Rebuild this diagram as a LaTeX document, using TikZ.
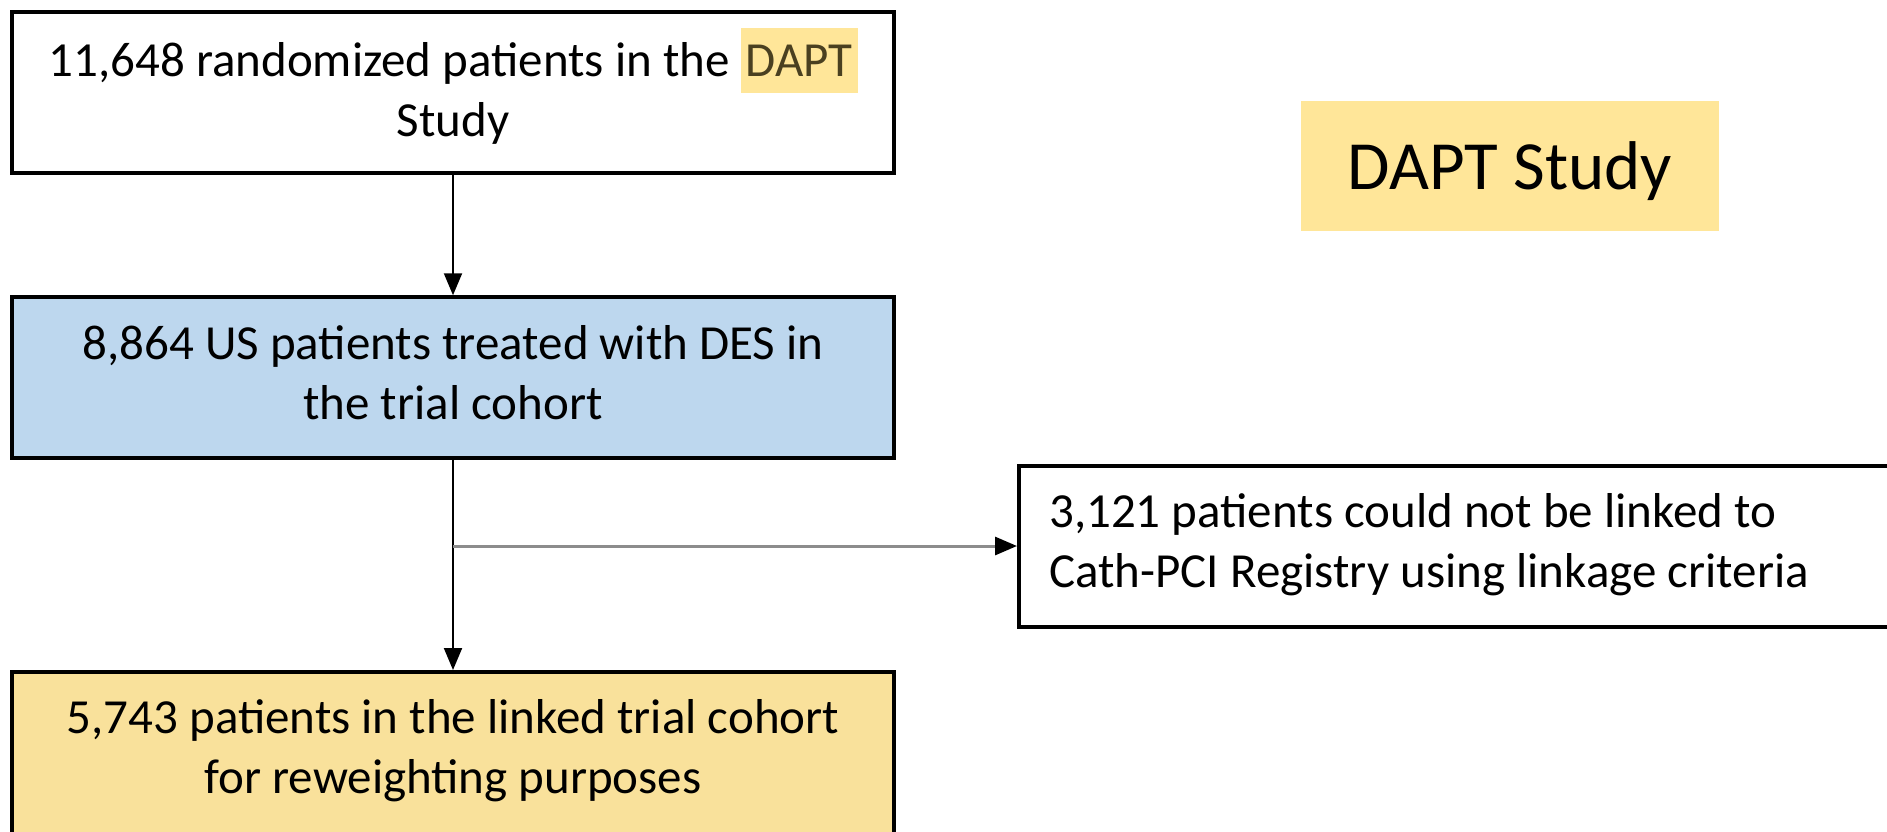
\documentclass[tikz,border=0pt]{standalone}
\usepackage{fontspec}
\setmainfont{Carlito}
\usetikzlibrary{arrows.meta}
\definecolor{blueb}{HTML}{BDD7EE}
\definecolor{yellowb}{HTML}{F9E19B}
\definecolor{hl}{HTML}{FFE699}
\definecolor{hltext}{HTML}{4A4020}
\definecolor{greyline}{HTML}{8C8C8C}
\begin{document}
\begin{tikzpicture}[x=1pt,y=-1pt,
  box/.style={draw=black, line width=3.5pt, minimum width=882pt, minimum height=161pt, inner sep=0pt},
  txt/.style={align=center, font=\fontsize{49}{60}\selectfont, inner sep=0pt},
  conn/.style={line width=2pt, -{Triangle[length=22pt,width=18pt,black]}},
]
\useasboundingbox (0,0) rectangle (1887,831);
\begin{scope}
\clip (0,0) rectangle (1887,831);
\node[box, fill=white] (b1) at (453,92.5) {};
\node[txt] (b1t) at (453,86) {11,648 randomized patients in the {\setlength\fboxsep{0pt}\colorbox{hl}{\rule[-16pt]{0pt}{65pt}\hspace{5pt}\color{hltext}DAPT\hspace{5pt}}}\\Study};
\node[box, fill=blueb] (b2) at (453,377.5) {};
\node[txt] (b2t) at (453,373) {8,864 US patients treated with DES in\\the trial cohort};
\node[box, fill=yellowb, anchor=north, minimum height=220pt] (b3) at (453,670) {};
\node[txt] (b3t) at (453,751) {5,743 patients in the linked trial cohort\\for reweighting purposes};
\node[box, fill=white, anchor=north west, minimum width=950pt] (b4) at (1017,464) {};
\node[txt, align=left, anchor=west] (b4t) at (1049,545) {3,121 patients could not be linked to\\Cath-PCI Registry using linkage criteria};
\node[fill=hl, minimum width=418pt, minimum height=130pt, inner sep=0pt, text depth=0pt, font=\fontsize{69}{80}\selectfont] (lab) at (1510,166) {DAPT Study};
\coordinate (br) at (453,546);
\draw[conn] (b1.south) -- (b2.north);
\draw[conn] (b2.south) -- (b3.north);
\draw[line width=3pt, greyline, -{Triangle[length=22pt,width=18pt,black]}] (br) -- (br -| b4.west);
\end{scope}
\end{tikzpicture}
\end{document}
